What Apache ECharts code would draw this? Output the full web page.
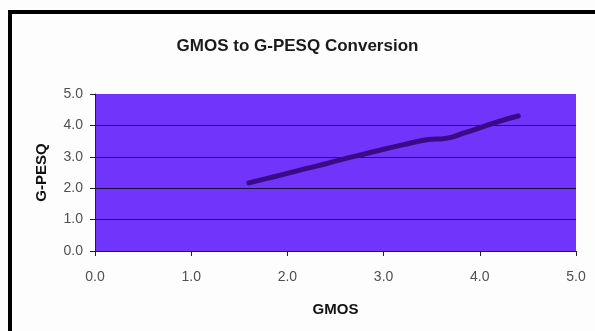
<!DOCTYPE html>
<html>
<head>
<meta charset="utf-8">
<script src="https://cdn.jsdelivr.net/npm/echarts@6/dist/echarts.min.js"></script>
<style>
html,body{margin:0;padding:0;background:#fdfdfd;}
#c{width:595px;height:331px;}
</style>
</head>
<body>
<div id="c"></div>
<script>
var titleText = 'GMOS to G-PESQ Conversion';
var xName = 'GMOS';
var yName = 'G-PESQ';
var gmos = [1.6, 1.8, 2.0, 2.2, 2.4, 2.6, 2.8, 3.0, 3.2, 3.4, 3.5, 3.6, 3.7, 3.8, 4.0, 4.2, 4.4];
var gpesq = [2.17, 2.32, 2.47, 2.63, 2.78, 2.94, 3.09, 3.24, 3.38, 3.52, 3.56, 3.57, 3.62, 3.72, 3.92, 4.13, 4.30];

var chart = echarts.init(document.getElementById('c'), null, {renderer: 'canvas'});
var pts = gmos.map(function (x, i) { return [x, gpesq[i]]; });
var labelStyle = {color: '#505050', fontFamily: 'Liberation Sans, Arial, sans-serif', fontSize: 14};
chart.setOption({
  animation: false,
  backgroundColor: '#fdfdfd',
  title: {
    text: titleText,
    left: 'center',
    top: 33,
    textStyle: {fontFamily: 'Liberation Sans, Arial, sans-serif', fontSize: 17, fontWeight: 'bold', color: '#1a1a1a'}
  },
  graphic: [{
    type: 'rect',
    shape: {x: 10, y: 12, width: 700, height: 500},
    style: {fill: 'none', stroke: '#000', lineWidth: 4},
    silent: true,
    z: 100
  }],
  grid: {
    left: 95, right: 19, top: 94, bottom: 80,
    show: true, backgroundColor: '#7134fb', borderWidth: 0
  },
  xAxis: {
    type: 'value', min: 0, max: 5, interval: 1,
    name: xName, nameLocation: 'middle', nameGap: 51,
    nameTextStyle: {fontFamily: 'Liberation Sans, Arial, sans-serif', fontSize: 15, fontWeight: 'bold', color: '#111'},
    axisLine: {show: true, lineStyle: {color: '#222', width: 1}},
    axisTick: {show: true, inside: false, length: 5, lineStyle: {color: '#222'}},
    axisLabel: Object.assign({margin: 19, formatter: function (v) { return v.toFixed(1); }}, labelStyle),
    splitLine: {show: false}
  },
  yAxis: {
    type: 'value', min: 0, max: 5, interval: 1,
    name: yName, nameLocation: 'middle', nameGap: 46, nameRotate: 90,
    nameTextStyle: {fontFamily: 'Liberation Sans, Arial, sans-serif', fontSize: 15, fontWeight: 'bold', color: '#111'},
    axisLine: {show: true, lineStyle: {color: '#222', width: 1}},
    axisTick: {show: true, inside: false, length: 5, lineStyle: {color: '#222'}},
    axisLabel: Object.assign({margin: 12, formatter: function (v) { return v.toFixed(1); }}, labelStyle),
    splitLine: {show: true, lineStyle: {color: ['rgba(0,0,0,0)', '#1a0a40', '#1a0a40', '#1a0a40', '#1a0a40', 'rgba(0,0,0,0)'], width: 1}}
  },
  series: [{
    type: 'line',
    data: pts,
    smooth: true,
    showSymbol: false,
    lineStyle: {color: '#3a0b86', width: 5, cap: 'round'}
  }]
});
</script>
</body>
</html>
